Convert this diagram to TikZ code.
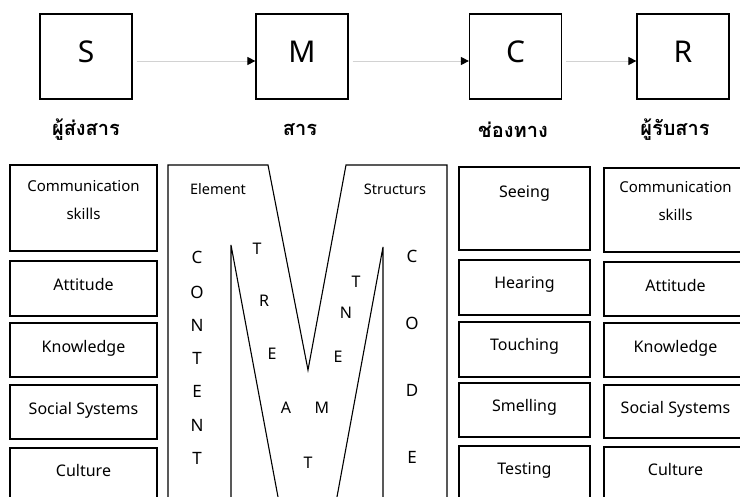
\documentclass[tikz,border=0pt]{standalone}
\usepackage{fontspec}
\setmainfont{Noto Sans}
\newfontfamily\thaifont[Script=Thai]{Loma}
\usetikzlibrary{arrows.meta}

\begin{document}
\begin{tikzpicture}[x=1pt, y=-1pt,
    letterbox/.style={rectangle, draw=black, line width=1.2pt, minimum width=92pt, minimum height=85pt, text depth=10pt, font=\fontsize{30}{34}\selectfont},
    thailabel/.style={font=\thaifont\bfseries\fontsize{20}{24}\selectfont},
    itembox/.style={rectangle, draw=black, line width=1.2pt, align=center, text depth=8pt, font=\fontsize{16}{19}\selectfont},
    flowline/.style={draw=gray!35, line width=0.9pt, shorten <=4pt, -{Triangle[black, length=8pt, width=8pt]}},
    glyph/.style={inner sep=0pt, font=\fontsize{17}{20}\selectfont}]
                \useasboundingbox (0,0) rectangle (740,497);
                % S M C R
                \node[letterbox] (sender) at (86, 56.5) {S};
                \node[letterbox] (message) at (302, 56.5) {M};
                \node[letterbox] (channel) at (515.5, 56.5) {C};
                \node[letterbox] (receiver) at (683, 56.5) {R};
                \draw[flowline] ([yshift=-4.5pt]sender.east) -- ([yshift=-4.5pt]message.west);
                \draw[flowline] ([yshift=-4.5pt]message.east) -- ([yshift=-4.5pt]channel.west);
                \draw[flowline] ([yshift=-4.5pt]channel.east) -- ([yshift=-4.5pt]receiver.west);
                \node[thailabel] (senderlabel) at (86, 130) {ผู้ส่งสาร};
                \node[thailabel] (messagelabel) at (300, 130) {สาร};
                \node[thailabel] (channellabel) at (513, 130) {ช่องทาง};
                \node[thailabel] (receiverlabel) at (675, 130) {ผู้รับสาร};
                % sender column
                \node[itembox, minimum width=147pt, minimum height=86pt, text depth=16pt, font=\fontsize{15}{18}\selectfont] (scomm) at (83.5, 208) {Communication\\[10pt]skills};
                \node[itembox, minimum width=147pt, minimum height=55pt] (satt) at (83.5, 288.5) {Attitude};
                \node[itembox, minimum width=147pt, minimum height=54pt] (sknow) at (83.5, 350) {Knowledge};
                \node[itembox, minimum width=147pt, minimum height=54pt] (ssoc) at (83.5, 412) {Social Systems};
                \node[itembox, minimum width=147pt, minimum height=55pt, text depth=11pt] (scult) at (83.5, 475.5) {Culture};
                % message
                \draw[line width=1.1pt] (168, 505) -- (168, 165) -- (268, 165) -- (308, 370) -- (346, 165) -- (447, 165) -- (447, 505);
                \draw[line width=1.1pt] (231, 505) -- (231, 245) -- (279.5, 505);
                \draw[line width=1.1pt] (383, 505) -- (383, 247) -- (335.5, 505);
                \node[glyph, font=\fontsize{14.5}{17}\selectfont] (element) at (218, 189) {Element};
                \node[glyph, font=\fontsize{14.5}{17}\selectfont] (structurs) at (395, 189) {Structurs};
                % content
                \node[glyph] (c1) at (197, 257) {C};
                \node[glyph] (c2) at (197, 292) {O};
                \node[glyph] (c3) at (197, 325) {N};
                \node[glyph] (c4) at (197, 358) {\bfseries T};
                \node[glyph] (c5) at (197, 391) {E};
                \node[glyph] (c6) at (197, 425) {N};
                \node[glyph] (c7) at (197, 458) {\bfseries T};
                % code
                \node[glyph] (d1) at (412, 256) {C};
                \node[glyph] (d2) at (412, 323) {O};
                \node[glyph] (d3) at (412, 390) {D};
                \node[glyph] (d4) at (412, 457) {E};
                % treatment
                \node[glyph, font=\fontsize{16}{19}\selectfont] (t1) at (257, 249) {T};
                \node[glyph, font=\fontsize{16}{19}\selectfont] (t2) at (264, 301) {R};
                \node[glyph, font=\fontsize{16}{19}\selectfont] (t3) at (272, 354) {E};
                \node[glyph, font=\fontsize{16}{19}\selectfont] (t4) at (286, 408) {A};
                \node[glyph, font=\fontsize{16}{19}\selectfont] (t5) at (322, 408) {M};
                \node[glyph, font=\fontsize{16}{19}\selectfont] (t6) at (338, 357) {E};
                \node[glyph, font=\fontsize{16}{19}\selectfont] (t7) at (346, 313) {N};
                \node[glyph, font=\fontsize{16}{19}\selectfont] (t8) at (356, 282) {T};
                \node[glyph, font=\fontsize{16}{19}\selectfont] (t9) at (308, 463) {T};
                % channel column
                \node[itembox, minimum width=131pt, minimum height=83pt, label={[itembox, draw=none, text depth=0pt, anchor=north, yshift=-15pt]north:Seeing}] (seeing) at (524.5, 208.5) {};
                \node[itembox, minimum width=131pt, minimum height=55pt, text depth=10pt] (hearing) at (524.5, 287.5) {Hearing};
                \node[itembox, minimum width=131pt, minimum height=55pt, text depth=10pt] (touching) at (524.5, 349.5) {Touching};
                \node[itembox, minimum width=131pt, minimum height=54pt, text depth=10pt] (smelling) at (524.5, 410) {Smelling};
                \node[itembox, minimum width=131pt, minimum height=55pt, text depth=10pt] (testing) at (524.5, 473.5) {Testing};
                % receiver column
                \node[itembox, minimum width=143pt, minimum height=84pt, text depth=19pt, font=\fontsize{15}{18}\selectfont] (rcomm) at (675.5, 210) {Communication\\[10pt]skills};
                \node[itembox, minimum width=143pt, minimum height=54pt] (ratt) at (675.5, 289) {Attitude};
                \node[itembox, minimum width=143pt, minimum height=54pt] (rknow) at (675.5, 350) {Knowledge};
                \node[itembox, minimum width=143pt, minimum height=53pt] (rsoc) at (675.5, 411.5) {Social Systems};
                \node[itembox, minimum width=143pt, minimum height=55pt, text depth=11pt] (rcult) at (675.5, 474.5) {Culture};
            \end{tikzpicture}
\end{document}
